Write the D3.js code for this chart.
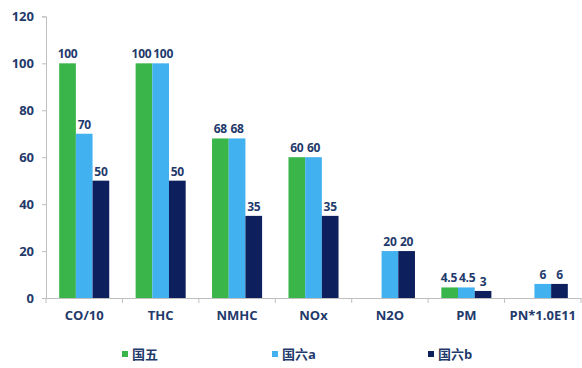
<!DOCTYPE html>
<html><head><meta charset="utf-8">
<script src="https://cdn.jsdelivr.net/npm/d3@7"></script>
<style>body{margin:0;background:#fff}svg{display:block}</style>
</head><body>
<svg id="c" width="582" height="368"></svg>
<script>
const categories = ["CO/10","THC","NMHC","NOx","N2O","PM","PN*1.0E11"];
const seriesNames = ["国五","国六a","国六b"];
const guo5  = [100, 100, 68, 60, null, 4.5, null];
const guo6a = [70, 100, 68, 60, 20, 4.5, 6];
const guo6b = [50, 50, 35, 35, 20, 3, 6];
const yTicks = [0,20,40,60,80,100,120];
const colors = ["#3AB54A","#41B1F0","#0D1F5C"];
const textColor = "#1F3A6B";
const font = "'Open Sans', 'Noto Sans CJK SC', sans-serif";

const series = [guo5, guo6a, guo6b];
const svg = d3.select("#c");
const pLeft = 46, pRight = 581, pTop = 16.4, pBottom = 298;

const x = d3.scaleBand().domain(categories).range([pLeft, pRight]).paddingInner(0).paddingOuter(0);
const xs = d3.scaleBand().domain(seriesNames).range([0, x.bandwidth()]).paddingOuter(0.79).paddingInner(0);
const y = d3.scaleLinear().domain([0,120]).range([pBottom, pTop]);

// y axis
const ya = svg.append("g").attr("transform",`translate(${pLeft},0)`)
  .call(d3.axisLeft(y).tickValues(yTicks).tickSize(4).tickPadding(8));
ya.select(".domain").attr("stroke","#BFBFBF");
ya.selectAll(".tick line").attr("stroke","#BFBFBF");
ya.selectAll(".tick text").attr("fill",textColor).attr("font-family",font)
  .attr("font-weight","bold").attr("font-size","13px");

// bars
const labelsByCat = categories.map(()=>[]);
series.forEach((vals,si)=>{
  const g = svg.append("g");
  categories.forEach((c,ci)=>{
    const v = vals[ci];
    if (v==null) return;
    g.append("rect")
      .attr("x", x(c)+xs(seriesNames[si]))
      .attr("y", y(v))
      .attr("width", xs.bandwidth())
      .attr("height", y(0)-y(v))
      .attr("fill", colors[si]);
  });
});
const lblG = svg.append("g");
series.forEach((vals,si)=>{
  categories.forEach((c,ci)=>{
    const v = vals[ci];
    if (v==null) return;
    const t = lblG.append("text")
      .attr("x", x(c)+xs(seriesNames[si])+xs.bandwidth()/2)
      .attr("y", y(v)-5)
      .attr("text-anchor","middle")
      .attr("fill",textColor).attr("font-family",font)
      .attr("font-weight","bold").attr("font-size","12px")
      .attr("letter-spacing","-0.3px")
      .text(v);
    labelsByCat[ci].push({node:t.node(), cx:x(c)+xs(seriesNames[si])+xs.bandwidth()/2, y:y(v)-5});
  });
});
// nudge apart labels that collide
labelsByCat.forEach(list=>{
  list.sort((a,b)=>a.cx-b.cx);
  list.forEach(l=>{ l.w = l.node.getComputedTextLength(); });
  for (let i=1;i<list.length;i++){
    const a=list[i-1], b=list[i];
    if (Math.abs(a.y-b.y) > 12) continue;
    const overlap = (a.cx + a.w/2 + 2) - (b.cx - b.w/2);
    if (overlap > 0){
      a.cx -= overlap/2; b.cx += overlap/2;
    }
  }
  list.forEach(l=>d3.select(l.node).attr("x", l.cx));
});

// x axis
const xa = svg.append("g").attr("transform",`translate(0,${pBottom})`)
  .call(d3.axisBottom(x).tickSize(0).tickPadding(10));
xa.select(".domain").attr("stroke","#BFBFBF");
xa.selectAll(".tick text").attr("fill",textColor).attr("font-family",font)
  .attr("font-weight","bold").attr("font-size","13px").attr("dy","0.9em");
// boundary ticks
const bounds = categories.map(c=>x(c)).concat([x(categories[categories.length-1])+x.bandwidth()]);
svg.append("g").selectAll("line").data(bounds).join("line")
  .attr("x1",d=>d).attr("x2",d=>d).attr("y1",pBottom).attr("y2",pBottom+5)
  .attr("stroke","#BFBFBF");

// legend
const legX = [122, 272, 428];
const lg = svg.append("g");
seriesNames.forEach((n,i)=>{
  lg.append("rect").attr("x",legX[i]).attr("y",351).attr("width",6).attr("height",6).attr("fill",colors[i]);
  lg.append("text").attr("x",legX[i]+10).attr("y",354.5).attr("dy","0.35em")
    .attr("fill",textColor).attr("font-family",font).attr("font-weight","bold")
    .attr("font-size","13px").text(n);
});
</script>
</body></html>
